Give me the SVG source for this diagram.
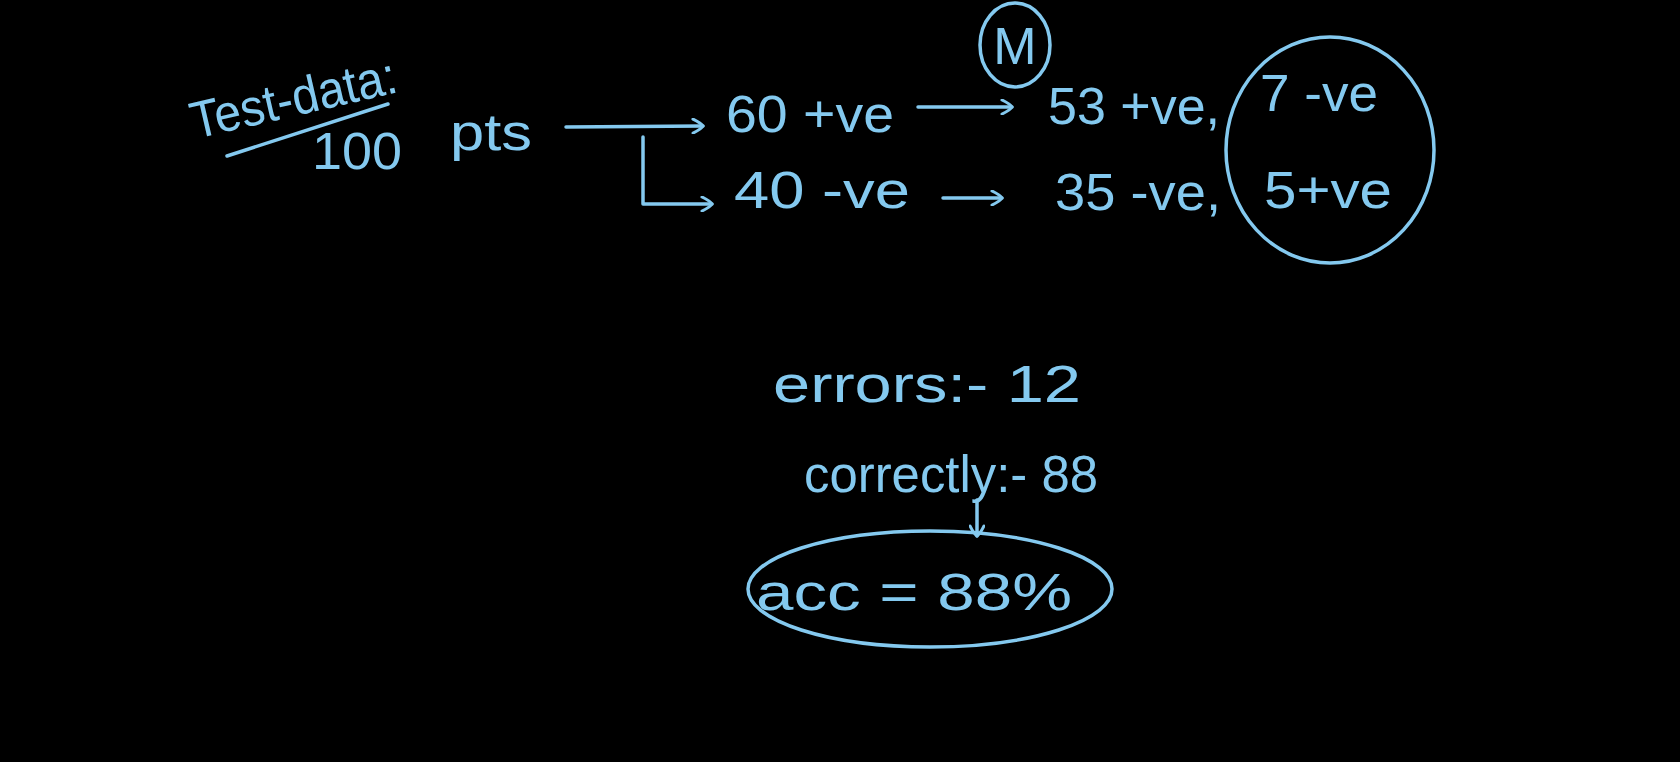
<svg xmlns="http://www.w3.org/2000/svg" width="1680" height="762" viewBox="0 0 1680 762">
<defs>
<marker id="ah" viewBox="0 0 16 16" refX="13" refY="8" markerWidth="16" markerHeight="16" markerUnits="userSpaceOnUse" orient="auto">
<path d="M3,1 Q11,5 13,8 Q11,11 3,15" fill="none" stroke="#84c9ef" stroke-width="3" stroke-linecap="round"/>
</marker>
<style>
.t{font-family:"Liberation Sans","DejaVu Sans",sans-serif;fill:#84c9ef;font-size:52px}
.s{fill:none;stroke:#84c9ef;stroke-width:3.5;stroke-linecap:round;stroke-linejoin:round}
</style>
</defs>
<rect width="1680" height="762" fill="#000"/>
<g id="test-data">
<text class="t" x="195" y="139" font-size="54" transform="rotate(-13 195 139)" textLength="210" lengthAdjust="spacingAndGlyphs">Test-data:</text>
<path class="s" d="M227,156 L388,104" stroke-width="4.5"/>
<text class="t" x="312" y="169" textLength="90" lengthAdjust="spacingAndGlyphs">100</text>
<text class="t" x="450" y="150" font-size="58" textLength="82" lengthAdjust="spacingAndGlyphs">pts</text>
</g>
<g id="pos60">
<text class="t" x="726" y="132" textLength="168" lengthAdjust="spacingAndGlyphs">60 +ve</text>
</g>
<g id="neg40">
<text class="t" x="734" y="208" textLength="176" lengthAdjust="spacingAndGlyphs">40 -ve</text>
</g>
<g id="model">
<ellipse class="s" cx="1015" cy="45" rx="35" ry="42"/>
<text class="t" x="1015" y="64" font-size="46" text-anchor="middle">M</text>
</g>
<g id="res-pos">
<text class="t" x="1048" y="124" textLength="172" lengthAdjust="spacingAndGlyphs">53 +ve,</text>
</g>
<g id="res-neg">
<text class="t" x="1055" y="210" textLength="166" lengthAdjust="spacingAndGlyphs">35 -ve,</text>
</g>
<g id="wrong">
<ellipse class="s" cx="1330" cy="150" rx="104" ry="113"/>
<text class="t" x="1260" y="111" textLength="118" lengthAdjust="spacingAndGlyphs">7 -ve</text>
<text class="t" x="1264" y="208" textLength="128" lengthAdjust="spacingAndGlyphs">5+ve</text>
</g>
<g id="errors">
<text class="t" x="773" y="402" textLength="308" lengthAdjust="spacingAndGlyphs">errors:- 12</text>
</g>
<g id="correctly">
<text class="t" x="804" y="492" font-size="56" textLength="294" lengthAdjust="spacingAndGlyphs">correctly:- 88</text>
</g>
<g id="acc">
<ellipse class="s" cx="930" cy="589" rx="182" ry="58"/>
<text class="t" x="756" y="610" font-size="56" textLength="316" lengthAdjust="spacingAndGlyphs">acc = 88%</text>
</g>
<g id="connectors">
<path class="s" d="M566,127 L703,126" marker-end="url(#ah)"/>
<path class="s" d="M643,137 L643,204 L712,204" marker-end="url(#ah)"/>
<path class="s" d="M918,107 L1012,107" marker-end="url(#ah)"/>
<path class="s" d="M943,198 L1002,198" marker-end="url(#ah)"/>
<path class="s" d="M977,500 L977,536" marker-end="url(#ah)"/>
</g>
</svg>
